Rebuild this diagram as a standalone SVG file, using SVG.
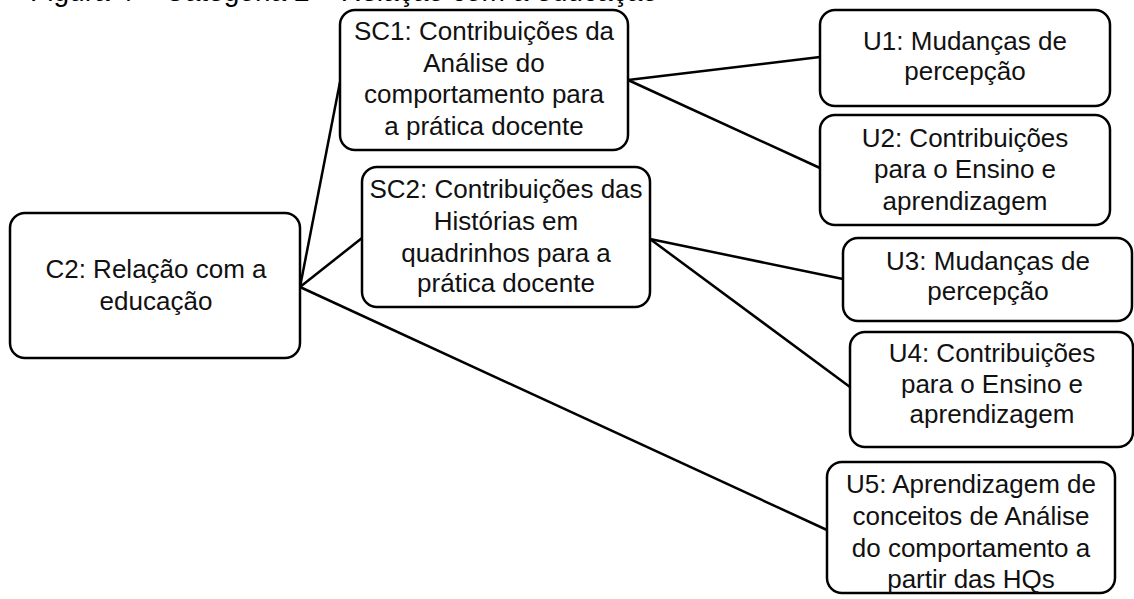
<svg xmlns="http://www.w3.org/2000/svg" width="1134" height="599" viewBox="0 0 1134 599">
<style>
.box{fill:#fff;stroke:#000;stroke-width:2.5}
.t{font-family:"Liberation Sans",Arial,sans-serif;font-size:26px;fill:#111;text-anchor:middle}
.title{font-family:"Liberation Sans",Arial,sans-serif;font-size:29px;fill:#000}
.c{stroke:#000;stroke-width:2.5;fill:none}
</style>
<rect width="1134" height="599" fill="#fff"/>
<text class="title" x="30" y="1" textLength="628" lengthAdjust="spacingAndGlyphs">Figura 4 – Categoria 2 – Relação com a educação</text>
<g id="connectors">
<line class="c" x1="300" y1="287" x2="340" y2="82"/>
<line class="c" x1="300" y1="287" x2="362" y2="238"/>
<line class="c" x1="300" y1="287" x2="827" y2="530"/>
<line class="c" x1="628" y1="80" x2="820" y2="57"/>
<line class="c" x1="628" y1="80" x2="820" y2="168"/>
<line class="c" x1="650" y1="239" x2="843" y2="279"/>
<line class="c" x1="650" y1="239" x2="850" y2="387"/>
</g>
<g id="C2">
<rect class="box" x="10" y="213" width="290" height="145" rx="15"/>
<text class="t" x="156" y="278">C2: Relação com a</text>
<text class="t" x="156" y="310">educação</text>
</g>
<g id="SC1">
<rect class="box" x="340" y="10" width="288" height="140" rx="15"/>
<text class="t" x="484" y="40">SC1: Contribuições da</text>
<text class="t" x="484" y="72">Análise do</text>
<text class="t" x="484" y="103">comportamento para</text>
<text class="t" x="484" y="135">a prática docente</text>
</g>
<g id="SC2">
<rect class="box" x="362" y="167" width="288" height="140" rx="15"/>
<text class="t" x="506" y="198">SC2: Contribuições das</text>
<text class="t" x="506" y="230">Histórias em</text>
<text class="t" x="506" y="262">quadrinhos para a</text>
<text class="t" x="506" y="292">prática docente</text>
</g>
<g id="U1">
<rect class="box" x="820" y="10" width="290" height="96" rx="15"/>
<text class="t" x="965" y="50">U1: Mudanças de</text>
<text class="t" x="965" y="80">percepção</text>
</g>
<g id="U2">
<rect class="box" x="820" y="115" width="290" height="110" rx="15"/>
<text class="t" x="965" y="147">U2: Contribuições</text>
<text class="t" x="965" y="178">para o Ensino e</text>
<text class="t" x="965" y="210">aprendizagem</text>
</g>
<g id="U3">
<rect class="box" x="843" y="238" width="289" height="83" rx="15"/>
<text class="t" x="988" y="270">U3: Mudanças de</text>
<text class="t" x="988" y="300">percepção</text>
</g>
<g id="U4">
<rect class="box" x="850" y="332" width="283" height="115" rx="15"/>
<text class="t" x="992" y="362">U4: Contribuições</text>
<text class="t" x="992" y="393">para o Ensino e</text>
<text class="t" x="992" y="423">aprendizagem</text>
</g>
<g id="U5">
<rect class="box" x="827" y="462" width="288" height="131" rx="15"/>
<text class="t" x="971" y="493">U5: Aprendizagem de</text>
<text class="t" x="971" y="525">conceitos de Análise</text>
<text class="t" x="971" y="557">do comportamento a</text>
<text class="t" x="971" y="588">partir das HQs</text>
</g>
</svg>
